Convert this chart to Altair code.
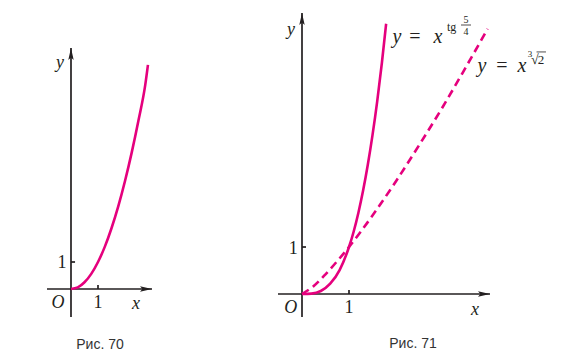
import altair as alt
import pandas as pd

MAG = "#E5007D"
INK = "#231F20"
SERIF = "Liberation Serif"
SANS = "Liberation Sans"

# ---------------- data ----------------
# Рис. 70 : curve
c70_x = [0, 0.25, 0.5, 0.75, 1.0, 1.25, 1.5, 1.75, 2.0, 2.25, 2.5, 2.75, 2.85]
c70_y = [0, 0.06, 0.25, 0.56, 1.0, 1.56, 2.25, 3.06, 4.0, 5.06, 6.25, 7.56, 8.3]

# Рис. 71 : solid curve y = x^(tg 5/4)
c71s_x = [0, 0.2, 0.4, 0.6, 0.8, 1.0, 1.1, 1.2, 1.3, 1.4, 1.5, 1.6, 1.7, 1.79]
c71s_y = [0, 0.008, 0.064, 0.22, 0.51, 1.0, 1.33, 1.73, 2.2, 2.75, 3.38, 4.1, 4.92, 5.75]

# Рис. 71 : dashed curve y = x^(cbrt 2)
c71d_x = [0, 0.25, 0.5, 0.75, 1.0, 1.5, 2.0, 2.5, 3.0, 3.5, 3.95]
c71d_y = [0, 0.17, 0.42, 0.7, 1.0, 1.67, 2.4, 3.18, 3.99, 4.85, 5.64]

# axes extents (data units)
ax70 = {"x_from": -0.889, "x_to": 3.0, "y_from": -1.037, "y_to": 8.926}
ax71 = {"x_from": -0.511, "x_to": 4.0, "y_from": -0.489, "y_to": 5.979}

# labels
lab70 = pd.DataFrame({
    "x": [-0.407, -0.481, 1.0, 2.407, -0.333],
    "y": [8.37, -0.519, -0.519, -0.556, 0.963],
    "t": ["y", "O", "1", "x", "1"],
    "st": ["italic", "italic", "normal", "italic", "normal"],
})
lab71 = pd.DataFrame({
    "x": [-0.234, -0.24, 1.0, 3.681, -0.185],
    "y": [5.617, -0.304, -0.304, -0.34, 0.951],
    "t": ["y", "O", "1", "x", "1"],
    "st": ["italic", "italic", "normal", "italic", "normal"],
})
cap70 = pd.DataFrame({"x": [1.074], "y": [-2.074], "t": ["Рис. 70"]})
cap71 = pd.DataFrame({"x": [2.362], "y": [-1.064], "t": ["Рис. 71"]})

# formula pieces (right panel)
f_main = pd.DataFrame({
    "x": [2.021, 2.404, 2.894, 3.830, 4.255, 4.681],
    "y": [5.340, 5.340, 5.340, 4.723, 4.723, 4.723],
    "t": ["y", "=", "x", "y", "=", "x"],
    "st": ["italic", "normal", "italic", "italic", "normal", "italic"],
})
f_tg = pd.DataFrame({"x": [3.085], "y": [5.596], "t": ["tg"]})
f_frac = pd.DataFrame({"x": [3.489, 3.489], "y": [5.766, 5.511], "t": ["5", "4"]})
f_bar = pd.DataFrame({"x": [3.383], "x2": [3.596], "y": [5.723]})
f_root3 = pd.DataFrame({"x": [4.851], "y": [5.043], "t": ["3"]})
f_root = pd.DataFrame({"x": [4.872], "y": [4.894], "t": ["√"]})
f_two = pd.DataFrame({"x": [5.085], "y": [4.894], "t": ["2"]})
f_over = pd.DataFrame({"x": [4.99], "x2": [5.191], "y": [5.15]})

UP = "M0,0 L-0.45,2 L0,1.6 L0.45,2 Z"
RIGHT = "M0,0 L-2,-0.45 L-1.6,0 L-2,0.45 Z"


def panel(xdom, ydom, w, h, ax, tick_len, curves, labels, cap, extra):
    sx = alt.Scale(domain=xdom, nice=False, zero=False)
    sy = alt.Scale(domain=ydom, nice=False, zero=False)

    def X(f="x"):
        return alt.X(f, type="quantitative", scale=sx, axis=None)

    def Y(f="y"):
        return alt.Y(f, type="quantitative", scale=sy, axis=None)

    axes_df = pd.DataFrame({
        "x": [ax["x_from"], 0.0, 1.0, 0.0],
        "x2": [ax["x_to"], 0.0, 1.0, tick_len],
        "y": [0.0, ax["y_from"], 0.0, 1.0],
        "y2": [0.0, ax["y_to"], tick_len, 1.0],
    })
    axes = alt.Chart(axes_df).mark_rule(color=INK, strokeWidth=1.7).encode(
        x=X(), x2="x2", y=Y(), y2="y2")
    up = alt.Chart(pd.DataFrame({"x": [0.0], "y": [ax["y_to"]]})).mark_point(
        shape=UP, size=144, filled=True, color=INK, opacity=1).encode(x=X(), y=Y())
    rt = alt.Chart(pd.DataFrame({"x": [ax["x_to"]], "y": [0.0]})).mark_point(
        shape=RIGHT, size=144, filled=True, color=INK, opacity=1).encode(x=X(), y=Y())

    layers = [axes, up, rt]
    for df, dash in curves:
        kw = dict(color=MAG, strokeWidth=2.6, interpolate="monotone")
        if dash:
            kw["strokeDash"] = [8, 5]
        layers.append(alt.Chart(df).mark_line(**kw).encode(x=X(), y=Y()))

    for st in ["italic", "normal"]:
        sub = labels[labels["st"] == st]
        if len(sub):
            layers.append(alt.Chart(sub).mark_text(
                font=SERIF, fontSize=18, fontStyle=st, color=INK,
                align="center", baseline="middle").encode(x=X(), y=Y(), text="t"))
    layers.append(alt.Chart(cap).mark_text(
        font=SANS, fontSize=14, color="#333333", align="center",
        baseline="middle").encode(x=X(), y=Y(), text="t"))

    for make in extra:
        layers.append(make(X, Y))

    return alt.layer(*layers).properties(width=w, height=h)


def formula_layers():
    out = []
    for st in ["italic", "normal"]:
        sub = f_main[f_main["st"] == st]
        out.append(lambda X, Y, sub=sub, st=st: alt.Chart(sub).mark_text(
            font=SERIF, fontSize=20, fontStyle=st, color=INK, align="center",
            baseline="alphabetic").encode(x=X(), y=Y(), text="t"))
    out.append(lambda X, Y: alt.Chart(f_tg).mark_text(
        font=SERIF, fontSize=12, color=INK, align="left",
        baseline="alphabetic").encode(x=X(), y=Y(), text="t"))
    out.append(lambda X, Y: alt.Chart(f_frac).mark_text(
        font=SERIF, fontSize=10, color=INK, align="center",
        baseline="alphabetic").encode(x=X(), y=Y(), text="t"))
    out.append(lambda X, Y: alt.Chart(f_bar).mark_rule(
        color=INK, strokeWidth=0.8).encode(x=X(), x2="x2", y=Y()))
    out.append(lambda X, Y: alt.Chart(f_root3).mark_text(
        font=SERIF, fontSize=9, color=INK, align="center",
        baseline="alphabetic").encode(x=X(), y=Y(), text="t"))
    out.append(lambda X, Y: alt.Chart(f_root).mark_text(
        font=SERIF, fontSize=14, color=INK, align="left",
        baseline="alphabetic").encode(x=X(), y=Y(), text="t"))
    out.append(lambda X, Y: alt.Chart(f_two).mark_text(
        font=SERIF, fontSize=13, color=INK, align="center",
        baseline="alphabetic").encode(x=X(), y=Y(), text="t"))
    out.append(lambda X, Y: alt.Chart(f_over).mark_rule(
        color=INK, strokeWidth=0.8).encode(x=X(), x2="x2", y=Y()))
    return out


left = panel([-2.333, 4.333], [-2.370, 10.407], 180, 345, ax70, 0.15,
             [(pd.DataFrame({"x": c70_x, "y": c70_y}), False)],
             lab70, cap70, [])

right = panel([-2.4255, 5.5106], [-1.255, 6.085], 373, 345, ax71, 0.085,
              [(pd.DataFrame({"x": c71d_x, "y": c71d_y}), True),
               (pd.DataFrame({"x": c71s_x, "y": c71s_y}), False)],
              lab71, cap71, formula_layers())

chart = alt.hconcat(left, right, spacing=0, bounds="flush").properties(
    padding=0).configure_view(stroke=None)

chart.save("out.html", embed_options={"renderer": "svg", "actions": False})
